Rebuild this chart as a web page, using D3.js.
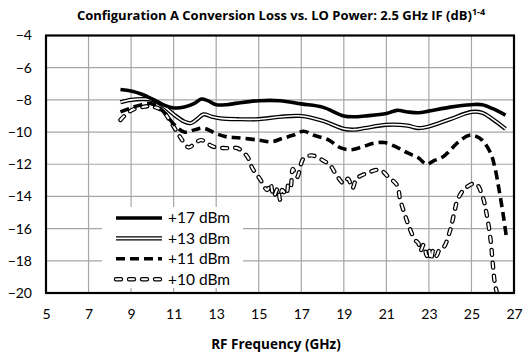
<!DOCTYPE html>
<html><head><meta charset="utf-8">
<script src="https://cdn.jsdelivr.net/npm/d3@7"></script>
<style>body{margin:0;background:#fff}svg{display:block}text{font-family:Lato,"Open Sans",sans-serif}</style>
</head><body><svg id="c" width="526" height="354"></svg>
<script>
const xTicks = [5,7,9,11,13,15,17,19,21,23,25,27];
const yTicks = [-4,-6,-8,-10,-12,-14,-16,-18,-20];
const seriesNames = ["+17 dBm","+13 dBm","+11 dBm","+10 dBm"];
const freq17 = [8.5,9,9.5,10,10.5,11,11.5,12,12.3,12.6,13,13.5,14,15,16,17,18,19,19.5,20,21,21.5,22,22.5,23,24,25,25.5,26,26.6];
const loss17 = [-7.35,-7.45,-7.65,-7.95,-8.3,-8.5,-8.45,-8.2,-7.95,-8.05,-8.3,-8.3,-8.2,-8.05,-8.05,-8.25,-8.45,-9.0,-9.05,-9.0,-8.85,-8.65,-8.75,-8.8,-8.7,-8.45,-8.3,-8.3,-8.55,-8.95];
const freq13 = [8.5,9,9.5,10,10.5,11,11.5,11.8,12.1,12.4,12.8,13.2,14,15,16,17,18,19,19.5,20,21,22,22.5,23,24,25,25.5,26,26.6];
const loss13 = [-8.15,-8.0,-7.95,-8.0,-8.35,-8.9,-9.35,-9.45,-9.2,-8.9,-9.05,-9.15,-9.2,-9.2,-9.05,-9.0,-9.3,-9.8,-9.85,-9.75,-9.55,-9.6,-9.75,-9.65,-9.2,-8.75,-8.8,-9.2,-9.8];
const freq11 = [8.5,9,9.5,10,10.5,11,11.5,12,12.4,13,13.5,14,15,15.6,16.1,16.6,17.1,17.6,18.3,18.8,19.3,19.8,20.4,20.9,21.5,22,22.5,22.9,23.2,23.7,24.4,24.9,25.2,25.5,25.9,26.1,26.3,26.5,26.65];
const loss11 = [-8.75,-8.5,-8.3,-8.25,-8.7,-9.5,-10.0,-9.85,-9.75,-10.1,-10.3,-10.35,-10.5,-10.6,-10.4,-10.2,-9.95,-10.2,-10.5,-10.95,-11.1,-10.95,-10.7,-10.65,-10.95,-11.3,-11.6,-12.0,-11.8,-11.5,-10.6,-10.2,-10.25,-10.5,-11.3,-12.2,-13.6,-15.2,-16.6];
const freq10 = [8.5,8.8,9.1,9.5,9.9,10.45,10.9,11.3,11.7,12.0,12.3,12.85,13.5,14.0,14.45,14.7,15.05,15.4,15.55,15.7,15.9,16.0,16.1,16.3,16.4,16.5,16.6,16.8,17.1,17.5,18.0,18.35,18.6,19.0,19.2,19.4,19.6,20.1,20.7,21.1,21.5,21.65,21.9,22.1,22.35,22.5,22.6,22.75,22.9,23.0,23.1,23.2,23.35,23.5,23.7,24.0,24.2,24.35,24.7,25.2,25.5,25.7,25.9,26.0,26.1,26.2];
const loss10 = [-9.25,-8.85,-8.6,-8.45,-8.4,-8.65,-9.45,-10.3,-10.95,-10.7,-10.5,-10.9,-11.0,-11.0,-11.5,-12.25,-12.9,-13.6,-13.2,-14.0,-13.5,-14.2,-13.6,-13.9,-13.2,-13.4,-12.3,-12.8,-11.65,-11.45,-11.75,-12.05,-12.55,-13.2,-12.9,-13.5,-12.9,-12.55,-12.35,-12.8,-13.3,-14.2,-15.25,-16.0,-16.7,-16.9,-17.4,-17.0,-17.7,-17.3,-17.95,-17.35,-17.7,-17.3,-17.15,-16.1,-14.95,-14.2,-13.5,-13.2,-13.9,-15.0,-16.7,-18.15,-19.4,-20.0];

const svg = d3.select("#c");
const L=46,R=514,T=35.5,B=293;
const x = d3.scaleLinear().domain([5,27]).range([L,R]);
const y = d3.scaleLinear().domain([-20,-4]).range([B,T]);

// grid
const g = svg.append("g");
g.selectAll(".vg").data(xTicks.slice(1,-1)).join("line").attr("x1",d=>x(d)).attr("x2",d=>x(d)).attr("y1",T).attr("y2",B).attr("stroke","#a6a6a6").attr("stroke-width",1.2);
g.selectAll(".hg").data(yTicks.slice(1,-1)).join("line").attr("x1",L).attr("x2",R).attr("y1",d=>y(d)).attr("y2",d=>y(d)).attr("stroke","#a6a6a6").attr("stroke-width",1.2);

// axes labels
const xa = svg.append("g").attr("transform",`translate(0,${B})`).call(d3.axisBottom(x).tickValues(xTicks).tickSize(0).tickPadding(16));
xa.select(".domain").remove();
xa.selectAll("text").attr("font-size",14).attr("fill","#000");
const ya = svg.append("g").attr("transform",`translate(${L},0)`).call(d3.axisLeft(y).tickValues(yTicks).tickSize(0).tickPadding(14));
ya.select(".domain").remove();
ya.selectAll("text").attr("font-size",14).attr("fill","#000");

svg.append("clipPath").attr("id","pc").append("rect").attr("x",L).attr("y",T).attr("width",R-L).attr("height",B-T);
const line = d3.line().x(d=>x(d[0])).y(d=>y(d[1])).curve(d3.curveCatmullRom.alpha(0.5));
const zip=(a,b)=>a.map((v,i)=>[v,b[i]]);
const plot = svg.append("g").attr("clip-path","url(#pc)");

function drawStyle(sel, k){
  if(k===0){ sel.append("path").attr("stroke","#000").attr("stroke-width",3.6).attr("fill","none"); }
  else if(k===1){ sel.append("path").attr("stroke","#000").attr("stroke-width",4.2).attr("fill","none");
                  sel.append("path").attr("stroke","#fff").attr("stroke-width",1.6).attr("fill","none"); }
  else if(k===2){ sel.append("path").attr("stroke","#000").attr("stroke-width",3.6).attr("fill","none").attr("stroke-dasharray","9,5"); }
  else { sel.append("path").attr("stroke","#000").attr("stroke-width",4.4).attr("fill","none").attr("stroke-dasharray","5,8").attr("stroke-linecap","round");
         sel.append("path").attr("stroke","#fff").attr("stroke-width",2).attr("fill","none").attr("stroke-dasharray","5,8").attr("stroke-linecap","round"); }
}
const data = [zip(freq17,loss17),zip(freq13,loss13),zip(freq11,loss11),zip(freq10,loss10)];
[3,2,1,0].forEach(k=>{
  const gg = plot.append("g"); drawStyle(gg,k);
  gg.selectAll("path").attr("d",line(data[k]));
});

// border
svg.append("rect").attr("x",L).attr("y",T).attr("width",R-L).attr("height",B-T).attr("fill","none").attr("stroke","#000").attr("stroke-width",2.2);

// legend
const lg = svg.append("g");
lg.append("rect").attr("x",102).attr("y",207).attr("width",141).attr("height",81).attr("fill","#fff");
seriesNames.forEach((n,i)=>{
  const yy = 218 + i*20.4;
  const gg = lg.append("g"); drawStyle(gg,i);
  gg.selectAll("path").attr("d",`M116,${yy}L162,${yy}`);
  lg.append("text").attr("x",168).attr("y",yy).attr("dy","0.35em").attr("font-size",15.5).text(n);
});

// titles
const t = svg.append("text").attr("x",281).attr("y",20).attr("text-anchor","middle").attr("font-size",13).attr("font-weight","bold").style("font-family","'Open Sans'");
t.append("tspan").text("Configuration A Conversion Loss vs. LO Power: 2.5 GHz IF (dB)");
t.append("tspan").attr("font-size",9).attr("dy",-5).text("1-4");
svg.append("text").attr("x",276).attr("y",349).attr("text-anchor","middle").attr("font-size",13.5).attr("font-weight","bold").style("font-family","'Open Sans'").text("RF Frequency (GHz)");
</script></body></html>
